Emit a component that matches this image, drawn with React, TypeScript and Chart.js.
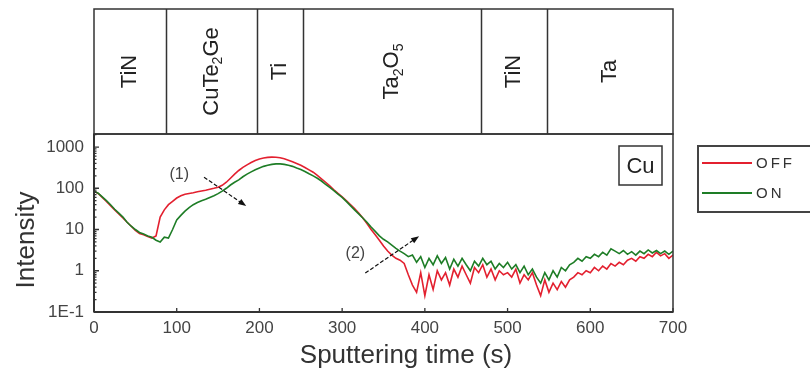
import React, { useEffect, useRef } from "react";
import { Chart, registerables } from "chart.js";

Chart.register(...registerables);

// ---------- data ----------
const times = [
  0, 5, 10, 15, 20, 25, 30, 35, 40, 45,
  50, 55, 60, 65, 70, 75, 80, 85, 90, 95,
  100, 105, 110, 115, 120, 125, 130, 135, 140, 145,
  150, 155, 160, 165, 170, 175, 180, 185, 190, 195,
  200, 205, 210, 215, 220, 225, 230, 235, 240, 245,
  250, 255, 260, 265, 270, 275, 280, 285, 290, 295,
  300, 305, 310, 315, 320, 325, 330, 335, 340, 345,
  350, 355, 360, 365, 370, 375, 380, 385, 390, 395,
  400, 405, 410, 415, 420, 425, 430, 435, 440, 445,
  450, 455, 460, 465, 470, 475, 480, 485, 490, 495,
  500, 505, 510, 515, 520, 525, 530, 535, 540, 545,
  550, 555, 560, 565, 570, 575, 580, 585, 590, 595,
  600, 605, 610, 615, 620, 625, 630, 635, 640, 645,
  650, 655, 660, 665, 670, 675, 680, 685, 690, 695,
  700,
];

const offValues = [
  85, 75, 60, 48, 38, 30, 24, 19, 15, 12,
  9.5, 8, 7.5, 6.8, 6.2, 7, 20, 30, 40, 48,
  58, 66, 72, 75, 78, 82, 86, 90, 95, 100,
  106, 118, 140, 175, 220, 270, 320, 370, 420, 470,
  510, 540, 560, 570, 565, 550, 520, 480, 440, 400,
  360, 320, 280, 245, 205, 170, 140, 115, 92, 75,
  62, 50, 40, 32, 25, 19, 14, 10, 7.5, 5.5,
  4, 3, 2.4, 2, 1.8, 1.5, 0.8, 0.45, 0.3, 0.9,
  0.25, 0.8, 0.35, 1.0, 0.6, 0.9, 0.45, 1.1, 0.7, 1.3,
  0.8, 0.5, 1.2, 0.9, 1.4, 0.7, 1.1, 0.6, 1.0, 0.8,
  0.9, 0.7, 1.1, 0.5, 0.8, 0.6, 0.9, 0.45, 0.25, 0.6,
  0.3, 0.5, 0.35, 0.55, 0.4, 0.6, 0.7, 0.9, 0.8, 1.0,
  0.9, 1.2, 1.0, 1.3, 1.1, 1.5, 1.3, 1.6, 1.4, 1.8,
  2.0, 1.7, 2.2, 2.0, 2.5, 2.2, 2.8, 2.3, 2.6, 2.0,
  2.4,
];

const onValues = [
  85, 76, 62, 50, 40, 31, 25, 20, 15, 12,
  10, 8.5, 7.8, 7, 6.5, 5.5, 5, 6.5, 6.2, 10,
  17, 22, 28, 34, 40, 45, 50, 54, 60, 66,
  74, 85, 100, 120, 140, 160, 190, 220, 250, 280,
  310, 340, 360, 380, 390, 390, 380, 360, 340, 310,
  285, 255, 225, 200, 175, 150, 125, 105, 88, 72,
  60, 48, 38, 30, 24, 19, 15, 11.5, 9, 7,
  5.8, 5, 4.2, 3.5, 3, 2.6, 2.2, 2.4, 1.6, 2.2,
  1.2, 2.0, 1.4, 2.3, 1.5, 2.1, 1.1, 1.9, 1.3, 2.0,
  1.4, 1.0, 1.7, 1.3, 2.0, 1.4, 1.7, 1.1, 1.5, 1.2,
  1.6, 1.1, 1.4, 0.9, 1.3, 0.8, 1.1, 0.7, 0.5, 0.9,
  0.6, 1.0, 0.7, 1.2, 1.0, 1.4, 1.6, 2.0, 1.7, 2.2,
  2.0, 2.5, 2.2, 2.8, 2.4, 3.4, 3.0, 2.6, 3.1, 2.5,
  2.9, 2.4, 3.0, 2.6, 3.2, 2.7, 3.1, 2.6, 3.0, 2.5,
  3.0,
];

const seriesNames = ["OFF", "ON"];
const seriesColors = ["#e3202f", "#1e7d26"];

const xTickValues = [0, 100, 200, 300, 400, 500, 600, 700];
const yTickValues = [0.1, 1, 10, 100, 1000];
const yTickLabels = ["1E-1", "1", "10", "100", "1000"];

// layer stack above the plot (seconds); "_n" marks a subscript digit
const layerNames = ["TiN", "CuTe_2Ge", "Ti", "Ta_2O_5", "TiN", "Ta"];
const layerBounds = [0, 87, 197, 253, 468, 548, 700];

const elementLabel = "Cu";
const xTitle = "Sputtering time (s)";
const yTitle = "Intensity";

// arrow annotations in data coordinates [seconds, intensity]
const annotationLabels = ["(1)", "(2)"];
const annotationTextAt = [[103, 210], [316, 2.6]];
const annotationFrom = [[133, 186], [328, 0.88]];
const annotationTo = [[184, 37], [393, 6.9]];

const FONT = "'Liberation Sans', Arial, sans-serif";

function drawRichRotated(ctx, text, cx, cy, size) {
  const parts = text.split(/_(\d)/);
  const subSize = Math.round(size * 0.62);
  let total = 0;
  const widths = parts.map((p, i) => {
    ctx.font = `${i % 2 ? subSize : size}px ${FONT}`;
    const w = ctx.measureText(p).width;
    total += w;
    return w;
  });
  ctx.save();
  ctx.translate(cx, cy);
  ctx.rotate(-Math.PI / 2);
  ctx.textBaseline = "middle";
  ctx.textAlign = "left";
  let xx = -total / 2;
  parts.forEach((p, i) => {
    const sub = i % 2 === 1;
    ctx.font = `${sub ? subSize : size}px ${FONT}`;
    ctx.fillText(p, xx, sub ? size * 0.32 : 0);
    xx += widths[i];
  });
  ctx.restore();
}

function drawArrow(ctx, x1, y1, x2, y2) {
  ctx.save();
  ctx.strokeStyle = "#111";
  ctx.fillStyle = "#111";
  ctx.lineWidth = 1.2;
  ctx.setLineDash([4, 2]);
  const ang = Math.atan2(y2 - y1, x2 - x1);
  const hl = 8;
  ctx.beginPath();
  ctx.moveTo(x1, y1);
  ctx.lineTo(x2 - Math.cos(ang) * hl * 0.8, y2 - Math.sin(ang) * hl * 0.8);
  ctx.stroke();
  ctx.setLineDash([]);
  ctx.beginPath();
  ctx.moveTo(x2, y2);
  ctx.lineTo(x2 - hl * Math.cos(ang) + 3 * Math.sin(ang), y2 - hl * Math.sin(ang) - 3 * Math.cos(ang));
  ctx.lineTo(x2 - hl * Math.cos(ang) - 3 * Math.sin(ang), y2 - hl * Math.sin(ang) + 3 * Math.cos(ang));
  ctx.closePath();
  ctx.fill();
  ctx.restore();
}

const decorPlugin = {
  id: "decor",
  afterDraw(chart) {
    const { ctx, chartArea, scales } = chart;
    const { left, right, top, bottom } = chartArea;
    const x = scales.x;
    const y = scales.y;
    ctx.save();

    // plot frame
    ctx.strokeStyle = "#333";
    ctx.lineWidth = 1.5;
    ctx.strokeRect(left, top, right - left, bottom - top);
    ctx.lineWidth = 2;
    ctx.beginPath();
    ctx.moveTo(left, bottom);
    ctx.lineTo(right, bottom);
    ctx.moveTo(left, top);
    ctx.lineTo(left, bottom);
    ctx.stroke();

    // inward tick marks
    ctx.lineWidth = 1.3;
    ctx.beginPath();
    xTickValues.forEach((v) => {
      const px = x.getPixelForValue(v);
      ctx.moveTo(px, bottom);
      ctx.lineTo(px, bottom - 4);
    });
    for (let d = -1; d <= 3; d++) {
      for (let k = 1; k <= 9; k++) {
        const v = k * Math.pow(10, d);
        if (v > y.max) break;
        const py = y.getPixelForValue(v);
        ctx.moveTo(left, py);
        ctx.lineTo(left + (k === 1 ? 5 : 2.5), py);
      }
    }
    ctx.stroke();

    // layer table
    const tableTop = 9;
    ctx.strokeStyle = "#333";
    ctx.lineWidth = 1.5;
    ctx.strokeRect(left, tableTop, right - left, top - tableTop);
    ctx.beginPath();
    for (let i = 1; i < layerBounds.length - 1; i++) {
      const px = Math.round(x.getPixelForValue(layerBounds[i])) + 0.5;
      ctx.moveTo(px, tableTop);
      ctx.lineTo(px, top);
    }
    ctx.stroke();
    ctx.fillStyle = "#222";
    layerNames.forEach((name, i) => {
      const cx = (x.getPixelForValue(layerBounds[i]) + x.getPixelForValue(layerBounds[i + 1])) / 2;
      drawRichRotated(ctx, name, cx, (tableTop + top) / 2, 22);
    });

    // element box
    const bx = right - 54;
    const by = top + 12;
    ctx.lineWidth = 1.5;
    ctx.strokeStyle = "#333";
    ctx.strokeRect(bx, by, 43, 39);
    ctx.fillStyle = "#222";
    ctx.font = `22px ${FONT}`;
    ctx.textAlign = "center";
    ctx.textBaseline = "middle";
    ctx.fillText(elementLabel, bx + 21.5, by + 20.5);

    // legend
    const lx = right + 25;
    const ly = top + 12;
    ctx.strokeStyle = "#444";
    ctx.lineWidth = 2;
    ctx.strokeRect(lx, ly, 116, 66);
    ctx.font = `15px ${FONT}`;
    ctx.textAlign = "left";
    ctx.textBaseline = "middle";
    try { ctx.letterSpacing = "3px"; } catch (e) {}
    seriesNames.forEach((n, i) => {
      const yy = ly + 17 + i * 30;
      ctx.strokeStyle = seriesColors[i];
      ctx.lineWidth = 2;
      ctx.beginPath();
      ctx.moveTo(lx + 4, yy);
      ctx.lineTo(lx + 54, yy);
      ctx.stroke();
      ctx.fillStyle = "#333";
      ctx.fillText(n, lx + 58, yy + 1);
    });
    try { ctx.letterSpacing = "0px"; } catch (e) {}

    // annotations
    ctx.fillStyle = "#444";
    ctx.font = `16px ${FONT}`;
    ctx.textAlign = "center";
    annotationLabels.forEach((lab, i) => {
      ctx.fillText(lab, x.getPixelForValue(annotationTextAt[i][0]), y.getPixelForValue(annotationTextAt[i][1]));
      drawArrow(
        ctx,
        x.getPixelForValue(annotationFrom[i][0]), y.getPixelForValue(annotationFrom[i][1]),
        x.getPixelForValue(annotationTo[i][0]), y.getPixelForValue(annotationTo[i][1])
      );
    });

    // axis titles
    ctx.fillStyle = "#333";
    ctx.font = `26px ${FONT}`;
    ctx.textAlign = "center";
    ctx.textBaseline = "middle";
    ctx.fillText(xTitle, 406, 356);
    ctx.save();
    ctx.translate(27, 240);
    ctx.rotate(-Math.PI / 2);
    ctx.fillText(yTitle, 0, 0);
    ctx.restore();

    ctx.restore();
  },
};

export default function App() {
  const ref = useRef(null);
  useEffect(() => {
    document.body.style.margin = "0";
    const chart = new Chart(ref.current, {
      type: "line",
      data: {
        datasets: [
          {
            label: seriesNames[0],
            data: times.map((t, i) => ({ x: t, y: offValues[i] })),
            borderColor: seriesColors[0],
            borderWidth: 1.6,
            pointRadius: 0,
            tension: 0,
            order: 2,
          },
          {
            label: seriesNames[1],
            data: times.map((t, i) => ({ x: t, y: onValues[i] })),
            borderColor: seriesColors[1],
            borderWidth: 1.6,
            pointRadius: 0,
            tension: 0,
            order: 1,
          },
        ],
      },
      options: {
        animation: false,
        responsive: false,
        devicePixelRatio: 1,
        layout: { padding: { top: 134, left: 0, right: 137, bottom: 0 } },
        plugins: { legend: { display: false }, tooltip: { enabled: false } },
        scales: {
          x: {
            type: "linear",
            min: 0,
            max: 700,
            afterBuildTicks: (s) => { s.ticks = xTickValues.map((value) => ({ value })); },
            afterFit: (s) => { s.height = 62; },
            grid: { display: false, drawTicks: false },
            border: { display: false },
            ticks: { color: "#444", padding: 6, font: { family: FONT, size: 17 }, maxRotation: 0 },
          },
          y: {
            type: "logarithmic",
            min: 0.1,
            max: 2070,
            afterBuildTicks: (s) => { s.ticks = yTickValues.map((value) => ({ value })); },
            afterFit: (s) => { s.width = 94; },
            grid: { display: false, drawTicks: false },
            border: { display: false },
            ticks: {
              color: "#444",
              padding: 10,
              font: { family: FONT, size: 17 },
              callback: (v) => {
                const idx = yTickValues.indexOf(v);
                return idx >= 0 ? yTickLabels[idx] : "";
              },
            },
          },
        },
      },
      plugins: [decorPlugin],
    });
    return () => chart.destroy();
  }, []);
  return (
    <div style={{ position: "absolute", left: 0, top: 0, width: 810, height: 374 }}>
      <canvas ref={ref} width={810} height={374} />
    </div>
  );
}
